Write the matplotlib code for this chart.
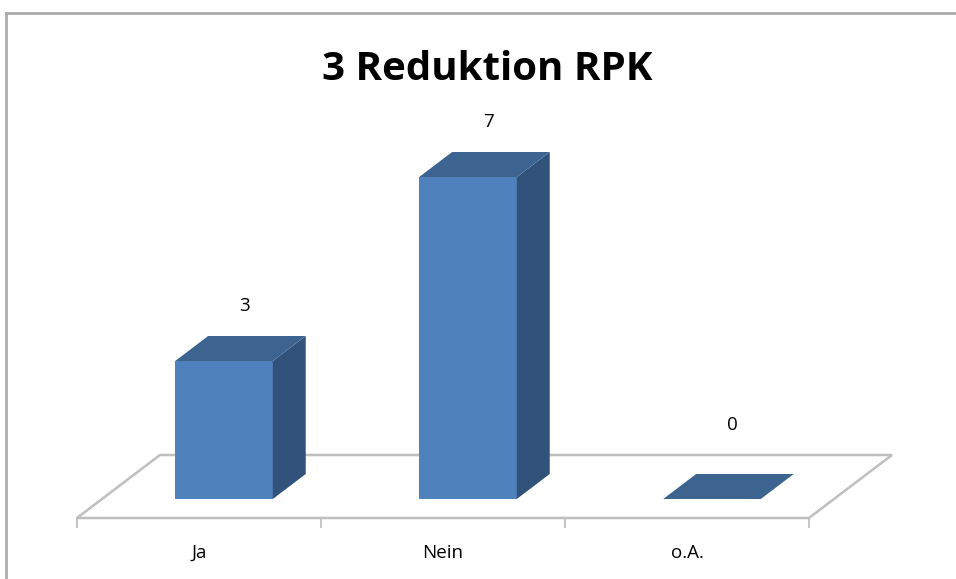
import matplotlib
matplotlib.use("Agg")
import matplotlib.pyplot as plt
from matplotlib.patches import Polygon
from matplotlib.transforms import IdentityTransform

categories = ["Ja", "Nein", "o.A."]
values = [3, 7, 0]
title = "3 Reduktion RPK"

FRONT = "#4F81BD"
TOP = "#3D6490"
SIDE = "#31527B"
GRID = "#BFBFBF"

W, H = 956, 579
fig = plt.figure(figsize=(W / 100, H / 100), dpi=100)
fig.patch.set_facecolor("white")

# axes = bar front plane: x in category units, y in value units
left_px, right_px = 102, 834
base_px, top_px = 499, 131
ax = fig.add_axes([left_px / W, (H - base_px) / H,
                   (right_px - left_px) / W, (base_px - top_px) / H])
ax.set_xlim(-0.5, len(categories) - 0.5)
ax.set_ylim(0, 8)
ax.axis("off")

# depth direction (display pixels per unit of depth)
DX, DY = 83 / 63, 1.0
BAR_DEPTH = 25
FLOOR_FRONT = -19
FLOOR_BACK = 44
BAR_W = 0.4


def P(x, v, d=0.0):
    px, py = ax.transData.transform((x, v))
    return (px + d * DX, py + d * DY)


def poly(pts, **kw):
    p = Polygon(pts, closed=True, transform=IdentityTransform(), **kw)
    fig.add_artist(p)
    return p


n = len(categories)
# floor
floor = [P(-0.5, 0, FLOOR_FRONT), P(n - 0.5, 0, FLOOR_FRONT),
         P(n - 0.5, 0, FLOOR_BACK), P(-0.5, 0, FLOOR_BACK)]
poly(floor, facecolor="white", edgecolor=GRID, lw=1.8, zorder=1)
# ticks on the front edge
for k in range(n + 1):
    x0, y0 = P(k - 0.5, 0, FLOOR_FRONT)
    fig.add_artist(plt.Line2D([x0, x0], [y0, y0 - 9], color=GRID, lw=1.3,
                              transform=IdentityTransform(), zorder=1))

fb_y = P(0, 0, FLOOR_BACK)[1]
for i, v in enumerate(values):
    xl, xr = i - BAR_W / 2, i + BAR_W / 2
    if v > 0:
        poly([P(xl, 0), P(xr, 0), P(xr, v), P(xl, v)],
             facecolor=FRONT, edgecolor="none", zorder=3)
        poly([P(xr, 0), P(xr, 0, BAR_DEPTH), P(xr, v, BAR_DEPTH), P(xr, v)],
             facecolor=SIDE, edgecolor="none", zorder=3)
    poly([P(xl, v), P(xr, v), P(xr, v, BAR_DEPTH), P(xl, v, BAR_DEPTH)],
         facecolor=TOP, edgecolor="none", zorder=3)
    # value label
    cx, cy = P(i, v, BAR_DEPTH * 0.62)
    ly = max(P(i, v, BAR_DEPTH)[1], fb_y) + 30
    fig.text(cx / W, ly / H, str(v), ha="center", va="center",
             fontsize=13.5, family="Open Sans", color="black")
    # category label
    lx, _ = P(i, 0, FLOOR_FRONT)
    fig.text(lx / W, (H - 553) / H, categories[i], ha="center", va="center",
             fontsize=13.5, family="Open Sans", color="black")

fig.text(487 / W, (H - 70) / H, title, ha="center", va="center",
         fontsize=29, fontweight="bold", family="Open Sans", color="black")

# chart area border (top and left visible)
fig.add_artist(plt.Line2D([5.5, 5.5], [0, H - 13], color="#ABABAB", lw=2,
                          transform=IdentityTransform()))
fig.add_artist(plt.Line2D([5.5, W], [H - 13, H - 13], color="#ABABAB", lw=2,
                          transform=IdentityTransform()))

fig.savefig("out.png", dpi=100, facecolor="white")
